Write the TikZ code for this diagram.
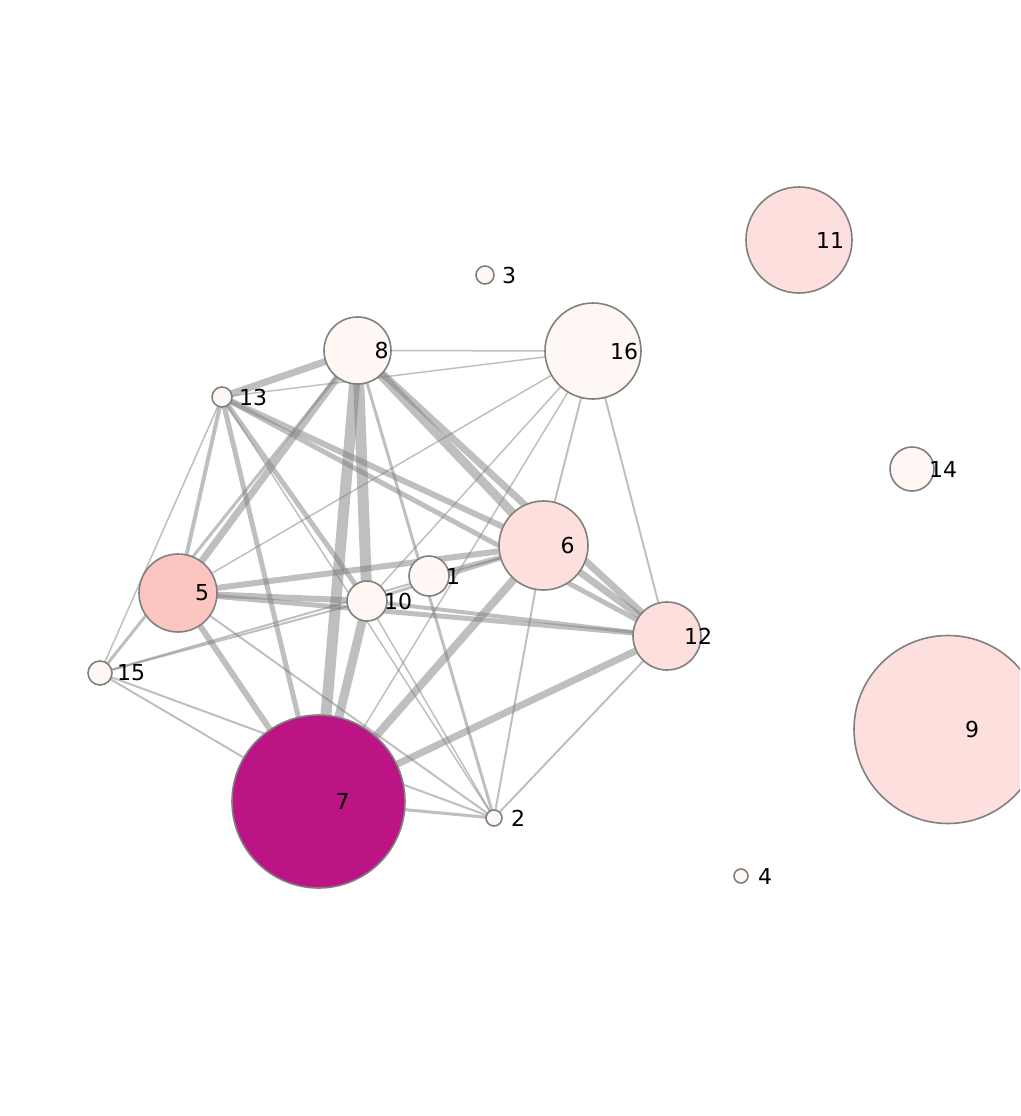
\documentclass[tikz,border=0pt]{standalone}
\usepackage{fontspec}
\setmainfont{DejaVu Sans}
\usetikzlibrary{backgrounds}
\definecolor{rpA}{RGB}{255,247,243}
\definecolor{rpB}{RGB}{253,224,221}
\definecolor{rpC}{RGB}{252,197,192}
\definecolor{rpD}{RGB}{188,20,133}
\definecolor{rim}{RGB}{128,128,128}

\begin{document}
\begin{tikzpicture}[x=1pt,y=-1pt,
  vertex/.style={circle,draw=rim,line width=1.6pt,inner sep=0pt},
  tag/.style={anchor=west,inner sep=0pt,font=\fontsize{22}{26}\selectfont},
  link/.style={draw=rim,opacity=.5}]
\useasboundingbox (0,0) rectangle (1020,1116);
\clip (0,0) rectangle (1020,1116);
% vertices: name/x/y/radius/fill
\foreach \n/\x/\y/\r/\c in {1/429/576/20/rpA,2/494/818/8/rpA,3/485/275/9/rpA,
  4/741/876/7/rpA,5/178/593/39/rpC,6/543.5/545.5/44.5/rpB,7/318.5/801.5/86.5/rpD,
  8/357.5/350.5/33.5/rpA,9/948/729.5/94/rpB,10/367/601/20/rpA,11/799/240/53/rpB,
  12/667/636/34/rpB,13/222/397/10/rpA,14/912/469/22/rpA,15/100/673/12/rpA,
  16/593/351/48/rpA}
  {\node[vertex,fill=\c,minimum size=2*\r] (n\n) at (\x,\y) {};
   \node[tag] (t\n) at (\x+17,\y) {\n};}
% weighted links
\begin{scope}[on background layer]
\foreach \a/\b/\w in {8/13/7,8/16/1.5,13/16/1.5,8/5/7,8/15/3,8/7/11,8/10/11,
  8/6/9,8/12/7,8/2/3,13/5/4,13/15/1.5,13/7/5,13/10/5,13/2/1.5,13/6/6,13/12/5,
  5/6/6,5/10/6,5/12/5,5/7/6,5/2/2,5/16/1.5,15/10/2,15/6/2,15/7/2,15/2/2,
  10/7/9,10/12/4,10/6/3,10/2/1.5,10/16/1.5,1/6/4,6/12/7,6/7/8,6/2/2,6/16/2,
  12/7/7,12/2/2,12/16/2,7/2/3,7/16/1.5}
  \draw[link,line width=\w] (n\a.center) -- (n\b.center);
\end{scope}
\end{tikzpicture}
\end{document}
